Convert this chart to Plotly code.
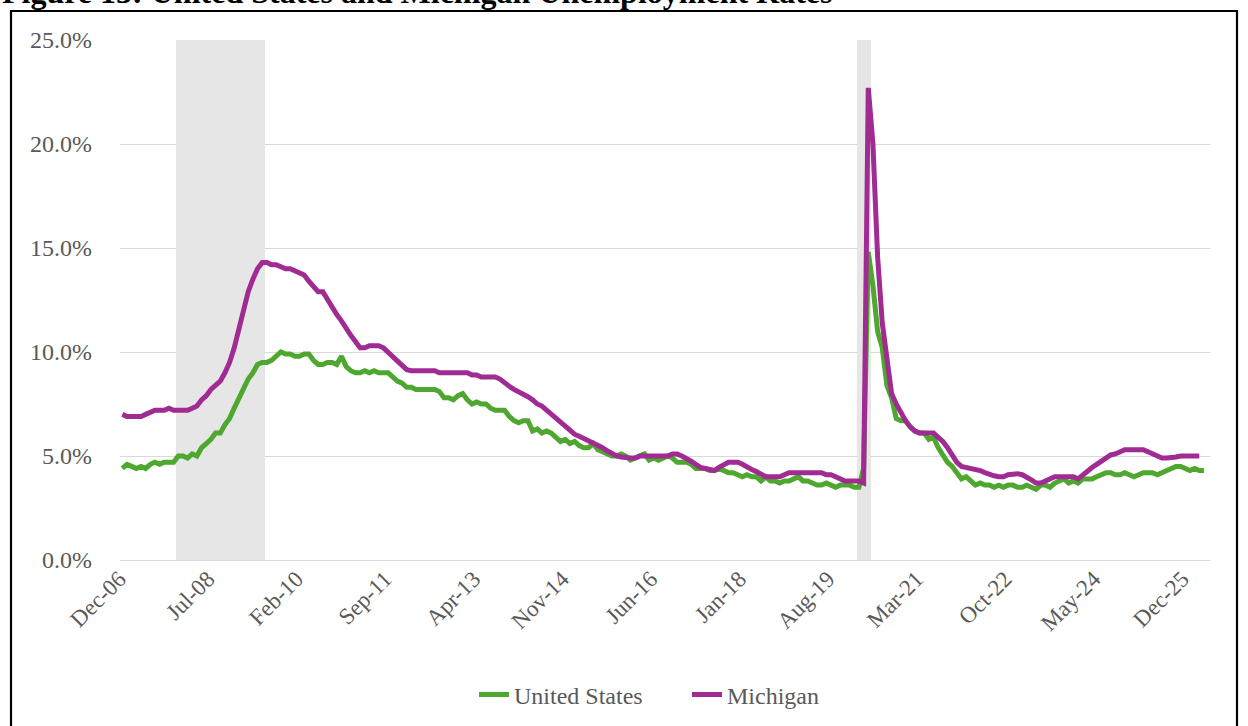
import pandas as pd
import plotly.graph_objects as go

# Monthly unemployment rates (%), starting December 2006
us_rate = [
    4.4,
    4.6, 4.5, 4.4, 4.5, 4.4, 4.6, 4.7, 4.6, 4.7, 4.7, 4.7, 5.0,          # 2007
    5.0, 4.9, 5.1, 5.0, 5.4, 5.6, 5.8, 6.1, 6.1, 6.5, 6.8, 7.3,          # 2008
    7.8, 8.3, 8.7, 9.0, 9.4, 9.5, 9.5, 9.6, 9.8, 10.0, 9.9, 9.9,         # 2009
    9.8, 9.8, 9.9, 9.9, 9.6, 9.4, 9.4, 9.5, 9.5, 9.4, 9.8, 9.3,          # 2010
    9.1, 9.0, 9.0, 9.1, 9.0, 9.1, 9.0, 9.0, 9.0, 8.8, 8.6, 8.5,          # 2011
    8.3, 8.3, 8.2, 8.2, 8.2, 8.2, 8.2, 8.1, 7.8, 7.8, 7.7, 7.9,          # 2012
    8.0, 7.7, 7.5, 7.6, 7.5, 7.5, 7.3, 7.2, 7.2, 7.2, 6.9, 6.7,          # 2013
    6.6, 6.7, 6.7, 6.2, 6.3, 6.1, 6.2, 6.1, 5.9, 5.7, 5.8, 5.6,          # 2014
    5.7, 5.5, 5.4, 5.4, 5.6, 5.3, 5.2, 5.1, 5.0, 5.0, 5.1, 5.0,          # 2015
    4.8, 4.9, 5.0, 5.1, 4.8, 4.9, 4.8, 4.9, 5.0, 4.9, 4.7, 4.7,          # 2016
    4.7, 4.6, 4.4, 4.4, 4.4, 4.3, 4.3, 4.4, 4.3, 4.2, 4.2, 4.1,          # 2017
    4.0, 4.1, 4.0, 4.0, 3.8, 4.0, 3.8, 3.8, 3.7, 3.8, 3.8, 3.9,          # 2018
    4.0, 3.8, 3.8, 3.7, 3.6, 3.6, 3.7, 3.6, 3.5, 3.6, 3.6, 3.6,          # 2019
    3.5, 3.5, 4.4, 14.8, 13.2, 11.0, 10.2, 8.4, 7.8, 6.8, 6.7, 6.7,      # 2020
    6.4, 6.2, 6.1, 6.1, 5.8, 5.9, 5.4, 5.1, 4.7, 4.5, 4.2, 3.9,          # 2021
    4.0, 3.8, 3.6, 3.7, 3.6, 3.6, 3.5, 3.6, 3.5, 3.6, 3.6, 3.5,          # 2022
    3.5, 3.6, 3.5, 3.4, 3.6, 3.6, 3.5, 3.7, 3.8, 3.9, 3.7, 3.8,          # 2023
    3.7, 3.9, 3.9, 3.9, 4.0, 4.1, 4.2, 4.2, 4.1, 4.1, 4.2, 4.1,          # 2024
    4.0, 4.1, 4.2, 4.2, 4.2, 4.1, 4.2, 4.3, 4.4, 4.5, 4.5, 4.4,          # 2025
    4.3, 4.4, 4.3, 4.3,                                                  # 2026
]

mi_rate = [
    7.0,
    6.9, 6.9, 6.9, 6.9, 7.0, 7.1, 7.2, 7.2, 7.2, 7.3, 7.2, 7.2,          # 2007
    7.2, 7.2, 7.3, 7.4, 7.7, 7.9, 8.2, 8.4, 8.6, 9.0, 9.5, 10.2,         # 2008
    11.1, 12.2, 12.9, 13.5, 14.0, 14.3, 14.3, 14.2, 14.2, 14.1, 14.0, 14.0,  # 2009
    13.9, 13.8, 13.7, 13.4, 13.1, 12.9, 12.9, 12.5, 12.2, 11.8, 11.5, 11.1,  # 2010
    10.8, 10.5, 10.2, 10.2, 10.3, 10.3, 10.3, 10.2, 10.0, 9.8, 9.6, 9.35,    # 2011
    9.15, 9.1, 9.1, 9.1, 9.1, 9.1, 9.1, 9.0, 9.0, 9.0, 9.0, 9.0,         # 2012
    9.0, 9.0, 8.9, 8.9, 8.8, 8.8, 8.8, 8.8, 8.7, 8.5, 8.35, 8.2,         # 2013
    8.1, 8.0, 7.85, 7.7, 7.5, 7.4, 7.2, 7.0, 6.8, 6.6, 6.4, 6.2,         # 2014
    6.05, 5.95, 5.85, 5.75, 5.65, 5.5, 5.4, 5.25, 5.1, 5.0, 4.95, 4.9,   # 2015
    4.9, 4.9, 5.0, 5.0, 5.0, 5.0, 5.0, 5.0, 5.0, 5.1, 5.1, 5.0,          # 2016
    4.9, 4.75, 4.6, 4.45, 4.4, 4.35, 4.3, 4.45, 4.6, 4.7, 4.7, 4.7,      # 2017
    4.6, 4.45, 4.35, 4.25, 4.1, 4.0, 4.0, 4.0, 4.0, 4.1, 4.2, 4.2,       # 2018
    4.2, 4.2, 4.2, 4.2, 4.2, 4.2, 4.1, 4.1, 4.0, 3.9, 3.8, 3.8,          # 2019
    3.8, 3.8, 3.7, 22.7, 20.0, 14.6, 11.4, 9.5, 8.0, 7.5, 7.05, 6.7,     # 2020
    6.4, 6.2, 6.1, 6.1, 6.1, 6.1, 5.9, 5.7, 5.4, 5.0, 4.7, 4.5,          # 2021
    4.45, 4.4, 4.4, 4.3, 4.2, 4.1, 4.05, 4.0, 4.0, 4.1, 4.15, 4.15,      # 2022
    4.1, 4.0, 3.85, 3.7, 3.7, 3.8, 3.9, 4.0, 4.0, 4.0, 4.0, 4.0,         # 2023
    3.9, 4.1, 4.3, 4.45, 4.6, 4.75, 4.9, 5.05, 5.1, 5.2, 5.3, 5.3,       # 2024
    5.3, 5.3, 5.3, 5.2, 5.1, 5.0, 4.9, 4.9, 4.9, 4.95, 5.0, 5.0,         # 2025
    5.0, 5.0, 5.0,                                                       # 2026
]

tick_labels = ["Dec-06", "Jul-08", "Feb-10", "Sep-11", "Apr-13", "Nov-14", "Jun-16",
               "Jan-18", "Aug-19", "Mar-21", "Oct-22", "May-24", "Dec-25"]

# Recession periods (first and last month, inclusive)
recessions = [("Dec-07", "Jun-09"), ("Feb-20", "Apr-20")]
shade_top = 25

months = list(pd.date_range("2006-12-01", periods=len(us_rate), freq="MS").strftime("%b-%y"))

shade = [None] * len(months)
for start, end in recessions:
    for i in range(months.index(start), months.index(end) + 1):
        shade[i] = shade_top

GRAY_TEXT = "#595959"
FONT = "Liberation Serif"

fig = go.Figure()
fig.add_trace(go.Bar(x=months, y=shade, width=1, marker=dict(color="#E6E6E6", line=dict(width=0)),
                     showlegend=False, hoverinfo="skip"))
fig.add_trace(go.Scatter(x=months, y=us_rate, mode="lines", name="United States",
                         line=dict(color="#4EA72E", width=5)))
fig.add_trace(go.Scatter(x=months[:len(mi_rate)], y=mi_rate, mode="lines", name="Michigan",
                         line=dict(color="#A02B93", width=5)))

L, R, T, B = 120, 38, 40, 166
W, H = 1248, 726
pw, ph = W - L - R, H - T - B


def px_x(p):
    return (p - L) / pw


def px_y(p):
    return (H - B - p) / ph


fig.update_layout(
    width=W, height=H,
    margin=dict(l=L, r=R, t=T, b=B, autoexpand=False),
    paper_bgcolor="white", plot_bgcolor="white",
    font=dict(family=FONT, color=GRAY_TEXT, size=23),
    bargap=0,
    showlegend=True,
    legend=dict(orientation="h", x=px_x(474), xanchor="left", y=px_y(695), yanchor="middle",
                font=dict(family=FONT, size=24, color=GRAY_TEXT), itemwidth=30,
                entrywidth=168, entrywidthmode="pixels",
                bgcolor="rgba(0,0,0,0)"),
    xaxis=dict(type="category", range=[-0.5, 233.3], tickmode="array",
               tickvals=tick_labels, ticktext=tick_labels, tickangle=-45,
               showgrid=False, showline=False, ticks="", zeroline=False,
               ticklabelshift=-3, automargin=False,
               tickfont=dict(family=FONT, size=23, color=GRAY_TEXT)),
    yaxis=dict(range=[0, 25], dtick=5, tickformat=".1f", ticksuffix="%",
               showgrid=True, gridcolor="#D9D9D9", gridwidth=1.3,
               zeroline=True, zerolinecolor="#D9D9D9", zerolinewidth=1.3,
               showline=False, ticks="", ticklabelstandoff=27, automargin=False,
               tickfont=dict(family=FONT, size=24, color=GRAY_TEXT)),
    shapes=[dict(type="rect", xref="paper", yref="paper",
                 x0=px_x(11), x1=px_x(1237), y0=px_y(760), y1=px_y(11),
                 line=dict(color="black", width=2.2), fillcolor="rgba(0,0,0,0)", layer="above")],
    annotations=[dict(text="<b>Figure 13: United States and Michigan Unemployment Rates</b>",
                      xref="paper", yref="paper", x=px_x(0), xanchor="left",
                      y=px_y(12), yanchor="bottom", showarrow=False,
                      font=dict(family=FONT, size=32, color="black"))],
)

fig.write_html("out.html")
